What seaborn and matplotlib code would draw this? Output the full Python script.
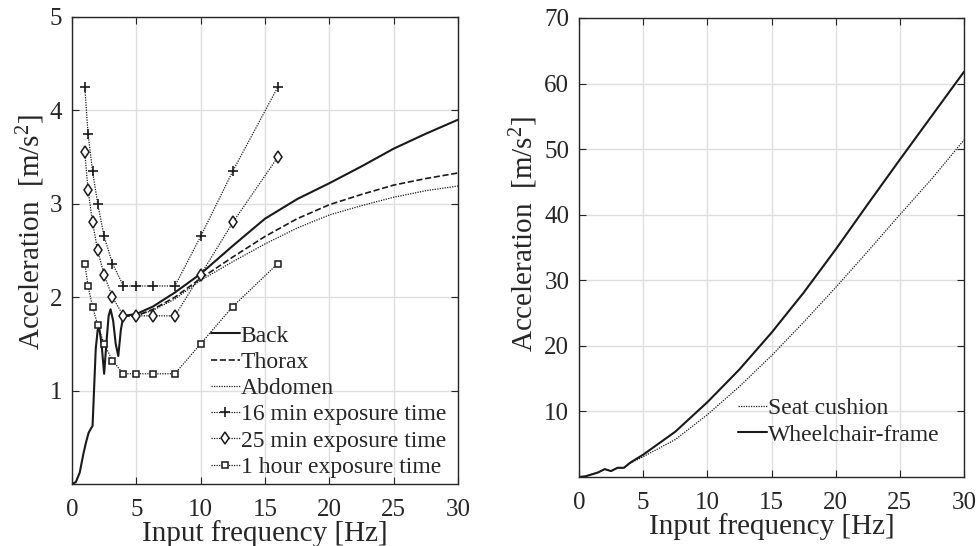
import matplotlib
matplotlib.use("Agg")
import matplotlib.pyplot as plt
import seaborn as sns

# ---- left panel: body parts vs ISO exposure limits ----
back_freq = [0, 0.3, 0.6, 0.9, 1.1, 1.3, 1.5, 1.6, 1.7, 1.85, 2.0, 2.12, 2.3, 2.5,
             2.7, 2.85, 3.0, 3.2, 3.4, 3.6, 3.8, 4.0, 4.5, 5, 6.3, 8, 10, 12.5,
             15, 17.5, 20, 22.5, 25, 27.5, 30]
back_acc = [0, 0.02, 0.12, 0.33, 0.45, 0.55, 0.6, 0.62, 0.95, 1.45, 1.65, 1.67, 1.5, 1.18,
            1.55, 1.8, 1.87, 1.75, 1.5, 1.37, 1.65, 1.8, 1.81, 1.82, 1.9, 2.05, 2.25, 2.55,
            2.84, 3.05, 3.22, 3.4, 3.59, 3.75, 3.9]

body_freq = [4.0, 5, 6.3, 8, 10, 12.5, 15, 17.5, 20, 22.5, 25, 27.5, 30]
thorax_acc = [1.8, 1.8, 1.87, 2.0, 2.2, 2.43, 2.65, 2.84, 2.99, 3.1, 3.2, 3.27, 3.33]
abdomen_acc = [1.8, 1.8, 1.86, 1.98, 2.18, 2.38, 2.57, 2.74, 2.88, 2.98, 3.07, 3.14, 3.19]

iso_freq = [1, 1.25, 1.6, 2, 2.5, 3.15, 4, 5, 6.3, 8, 10, 12.5, 16]
min16_acc = [4.25, 3.75, 3.35, 3.0, 2.65, 2.36, 2.12, 2.12, 2.12, 2.12, 2.65, 3.35, 4.25]
min25_acc = [3.55, 3.15, 2.8, 2.5, 2.24, 2.0, 1.8, 1.8, 1.8, 1.8, 2.24, 2.8, 3.5]
hour1_acc = [2.36, 2.12, 1.9, 1.7, 1.5, 1.32, 1.18, 1.18, 1.18, 1.18, 1.5, 1.9, 2.36]

# ---- right panel: seat cushion vs wheelchair frame ----
seat_freq = [0, 0.5, 1, 1.5, 2, 2.5, 3, 3.5, 4, 5, 7.5, 10, 12.5, 15, 17.5,
             20, 22.5, 25, 27.5, 30]
cushion_acc = [0, 0.1, 0.4, 0.7, 1.2, 0.9, 1.4, 1.4, 2.1, 3.1, 5.7, 9.5, 13.8, 18.5,
               23.6, 28.9, 34.4, 40.0, 45.5, 51.4]
frame_acc = [0, 0.1, 0.4, 0.7, 1.2, 0.9, 1.4, 1.4, 2.2, 3.4, 6.9, 11.4, 16.4, 22.0,
             28.1, 34.7, 41.6, 48.4, 55.1, 61.8]

sns.set_theme(style="ticks")
plt.rcParams["font.family"] = ["Liberation Serif", "DejaVu Serif"]
plt.rcParams["mathtext.fontset"] = "custom"
plt.rcParams["mathtext.rm"] = "Liberation Serif"
plt.rcParams["mathtext.it"] = "Liberation Serif:italic"

fig = plt.figure(figsize=(9.79, 5.46), dpi=100)
ax1 = fig.add_axes([0.0735, 0.1136, 0.3943, 0.8553])
ax2 = fig.add_axes([0.5914, 0.1264, 0.3933, 0.8407])

dark = "#262626"
dots = (0, (1, 1))
iso_kw = dict(color="k", lw=0.9, linestyle=dots, mec="k")

sns.lineplot(x=back_freq, y=back_acc, ax=ax1, color="k", lw=1.5, label="Back", sort=False)
sns.lineplot(x=body_freq, y=thorax_acc, ax=ax1, color="k", lw=1.2, linestyle="--", label="Thorax")
sns.lineplot(x=body_freq, y=abdomen_acc, ax=ax1, color="k", lw=0.9, linestyle=dots, label="Abdomen")
sns.lineplot(x=iso_freq, y=min16_acc, ax=ax1, marker="+", markersize=6.5, mew=1.2,
             label="16 min exposure time", **iso_kw)
sns.lineplot(x=iso_freq, y=min25_acc, ax=ax1, marker="d", markersize=6, mfc="white", mew=1.1,
             label="25 min exposure time", **iso_kw)
sns.lineplot(x=iso_freq, y=hour1_acc, ax=ax1, marker="s", markersize=4.5, mfc="white", mew=1.1,
             label="1 hour exposure time", **iso_kw)

sns.lineplot(x=seat_freq, y=cushion_acc, ax=ax2, color="k", lw=0.9, linestyle=dots, label="Seat cushion")
sns.lineplot(x=seat_freq, y=frame_acc, ax=ax2, color="k", lw=1.5, label="Wheelchair-frame")

for ax, ymax, ystep in [(ax1, 5, 1), (ax2, 70, 10)]:
    ax.set_xlim(0, 30)
    ax.set_ylim(0, ymax)
    ax.set_xticks(range(0, 31, 5))
    ax.set_yticks(range(ystep, ymax + 1, ystep))
    ax.grid(True, color="#dedede", lw=1.0)
    ax.set_axisbelow(True)
    ax.tick_params(direction="in", length=5, width=0.8, top=True, right=True,
                   labelsize=18, colors=dark)
    ax.tick_params(axis="x", pad=11)
    ax.tick_params(axis="y", pad=7)
    for s in ax.spines.values():
        s.set_color(dark)
        s.set_linewidth(1.0)
    ax.set_xlabel("Input frequency [Hz]", fontsize=21, color=dark, labelpad=-1)
    ax.set_ylabel("Acceleration  [m/s$^2$]", fontsize=21, color=dark)

ax1.yaxis.set_label_coords(-0.065, 0.54)
ax2.yaxis.set_label_coords(-0.10, 0.53)

ax1.legend(loc="lower right", bbox_to_anchor=(1.0, -0.012), frameon=False, fontsize=17,
           handlelength=1.2, handletextpad=0.05, labelspacing=0.2, borderaxespad=0.1)
ax2.legend(loc="lower right", bbox_to_anchor=(0.97, 0.04), frameon=False, fontsize=17,
           handlelength=1.2, handletextpad=0.05, labelspacing=0.2, borderaxespad=0.15)

fig.savefig("out.png", dpi=100)
